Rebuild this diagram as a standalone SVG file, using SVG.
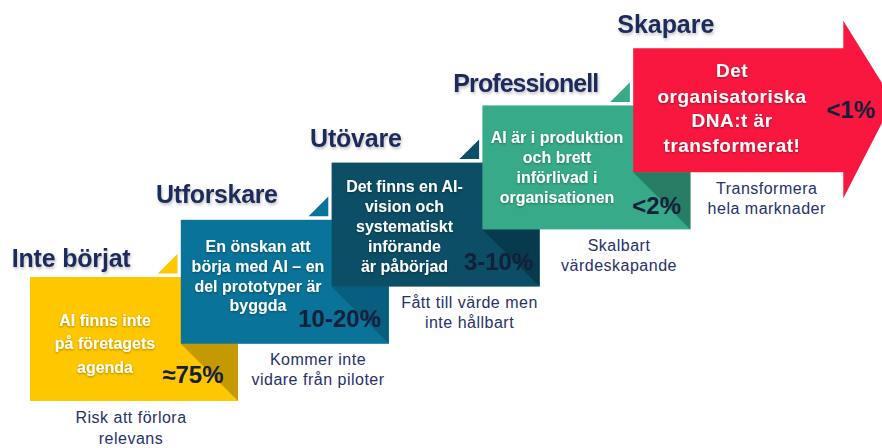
<svg xmlns="http://www.w3.org/2000/svg" width="882" height="448" viewBox="0 0 882 448">
<defs>
<style>
text{font-family:"Liberation Sans",Arial,sans-serif}
.hd{font-weight:700;font-size:25px;fill:#1D2A5C}
.bt{font-weight:700;font-size:16px;fill:#FFFFFF;text-anchor:middle}
.rt{font-size:19px;letter-spacing:0.5px}
.pc{font-weight:700;font-size:24px;fill:#14203A;text-anchor:end}
.cp{font-weight:400;font-size:16px;fill:#26316B;text-anchor:middle;letter-spacing:0.5px}
</style>
<filter id="hs" x="-10%" y="-40%" width="125%" height="190%">
<feDropShadow dx="1" dy="2" stdDeviation="1.6" flood-color="#000" flood-opacity="0.25"/>
</filter>
<filter id="ts" x="-10%" y="-40%" width="120%" height="190%">
<feDropShadow dx="0" dy="1" stdDeviation="1.2" flood-color="#000" flood-opacity="0.35"/>
</filter>
</defs>
<rect width="882" height="448" fill="#FFFFFF"/>
<g id="connectors"/>

<g id="stage1">
<rect x="30" y="277" width="208" height="124" fill="#FFC700"/>
<polygon points="180.8,343.8 238,343.8 238,401" fill="#C59A00"/>
<polygon points="157.8,273.5 177.5,273.5 177.5,253.8" fill="#FFC700"/>
<text class="hd" x="11.7" y="266.7" textLength="119" filter="url(#hs)">Inte börjat</text>
<g filter="url(#ts)">
<text class="bt" x="105" y="326">AI finns inte</text>
<text class="bt" x="105" y="349.3">på företagets</text>
<text class="bt" x="105" y="372.7">agenda</text>
</g>
<text class="pc" x="223.5" y="383.3">≈75%</text>
<text class="cp" x="131" y="423.3">Risk att förlora</text>
<text class="cp" x="131" y="443.5">relevans</text>
</g>

<g id="stage2">
<rect x="180.8" y="219.8" width="208" height="124" fill="#0A7399"/>
<polygon points="331.6,286.6 388.8,286.6 388.8,343.8" fill="#075E7E"/>
<polygon points="308.6,216.3 328.3,216.3 328.3,196.6" fill="#0A7399"/>
<text class="hd" x="156" y="203" textLength="122" filter="url(#hs)">Utforskare</text>
<g filter="url(#ts)">
<text class="bt" x="258" y="251.7">En önskan att</text>
<text class="bt" x="258" y="271.7">börja med AI – en</text>
<text class="bt" x="258" y="291.7">del prototyper är</text>
<text class="bt" x="258" y="311">byggda</text>
</g>
<text class="pc" x="381" y="327">10-20%</text>
<text class="cp" x="318" y="365">Kommer inte</text>
<text class="cp" x="318" y="385">vidare från piloter</text>
</g>

<g id="stage3">
<rect x="331.6" y="162.6" width="208" height="124" fill="#0B4E66"/>
<polygon points="482.4,229.4 539.6,229.4 539.6,286.6" fill="#083A4E"/>
<polygon points="459.4,159.1 479.1,159.1 479.1,139.4" fill="#0B4E66"/>
<text class="hd" x="310" y="147.3" textLength="92" filter="url(#hs)">Utövare</text>
<g filter="url(#ts)">
<text class="bt" x="404.5" y="191.7">Det finns en AI-</text>
<text class="bt" x="404.5" y="211.7">vision och</text>
<text class="bt" x="404.5" y="231.7">systematiskt</text>
<text class="bt" x="404.5" y="251.7">införande</text>
<text class="bt" x="404.5" y="271.7">är påbörjad</text>
</g>
<text class="pc" x="533.3" y="270">3-10%</text>
<text class="cp" x="469.5" y="308.3">Fått till värde men</text>
<text class="cp" x="469.5" y="328.3">inte hållbart</text>
</g>

<g id="stage4">
<rect x="482.4" y="105.4" width="208" height="124" fill="#37AB89"/>
<polygon points="633.2,172.2 690.4,172.2 690.4,229.4" fill="#287E65"/>
<polygon points="610.2,101.9 629.9,101.9 629.9,82.2" fill="#37AB89"/>
<text class="hd" x="453.3" y="91.7" textLength="146" filter="url(#hs)">Professionell</text>
<g filter="url(#ts)">
<text class="bt" x="557" y="143.3">AI är i produktion</text>
<text class="bt" x="557" y="163.3">och brett</text>
<text class="bt" x="557" y="183.3">införlivad i</text>
<text class="bt" x="557" y="203.3">organisationen</text>
</g>
<text class="pc" x="681" y="214">&lt;2%</text>
<text class="cp" x="619" y="251">Skalbart</text>
<text class="cp" x="619" y="271.3">värdeskapande</text>
</g>

<g id="stage5">
<polygon points="633.2,48.2 843.3,48.2 843.3,20.7 882,83 882,123 843.3,198.3 843.3,172.2 633.2,172.2" fill="#F9173F"/>
<text class="hd" x="617.3" y="32.7" textLength="97" filter="url(#hs)">Skapare</text>
<g filter="url(#ts)">
<text class="bt rt" x="732" y="77.3">Det</text>
<text class="bt rt" x="732" y="102.5">organisatoriska</text>
<text class="bt rt" x="732" y="127.3">DNA:t är</text>
<text class="bt rt" x="732" y="151.7">transformerat!</text>
</g>
<text class="pc" x="875" y="118.3">&lt;1%</text>
<text class="cp" x="766.7" y="194.3">Transformera</text>
<text class="cp" x="766.7" y="213.7">hela marknader</text>
</g>
</svg>
